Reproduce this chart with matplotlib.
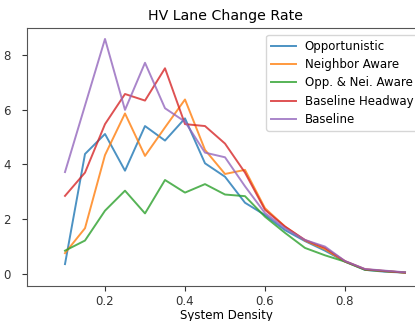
import matplotlib
matplotlib.use("Agg")
import matplotlib.pyplot as plt

x = [0.1, 0.15, 0.2, 0.25, 0.3, 0.35, 0.4, 0.45, 0.5, 0.55, 0.6, 0.65, 0.7, 0.75, 0.8, 0.85, 0.9, 0.95]
opportunistic = [0.36, 4.38, 5.11, 3.77, 5.40, 4.87, 5.68, 4.04, 3.55, 2.60, 2.15, 1.60, 1.20, 0.85, 0.45, 0.15, 0.08, 0.05]
neighbor_aware = [0.76, 1.67, 4.34, 5.86, 4.31, 5.35, 6.37, 4.53, 3.65, 3.80, 2.40, 1.73, 1.22, 0.90, 0.45, 0.17, 0.10, 0.05]
opp_nei_aware = [0.85, 1.22, 2.31, 3.04, 2.21, 3.43, 2.97, 3.28, 2.90, 2.84, 2.09, 1.50, 0.95, 0.68, 0.45, 0.15, 0.10, 0.05]
baseline_headway = [2.85, 3.70, 5.47, 6.57, 6.33, 7.51, 5.47, 5.40, 4.76, 3.70, 2.34, 1.73, 1.24, 0.95, 0.47, 0.17, 0.11, 0.05]
baseline = [3.72, 6.15, 8.58, 5.99, 7.71, 6.05, 5.56, 4.43, 4.26, 3.20, 2.22, 1.67, 1.24, 1.00, 0.47, 0.18, 0.12, 0.06]

series = [
    ("Opportunistic", opportunistic, "#1f77b4"),
    ("Neighbor Aware", neighbor_aware, "#ff7f0e"),
    ("Opp. & Nei. Aware", opp_nei_aware, "#2ca02c"),
    ("Baseline Headway", baseline_headway, "#d62728"),
    ("Baseline", baseline, "#9467bd"),
]
yticks = [0, 2, 4, 6, 8]
xticks = [0.2, 0.4, 0.6, 0.8]

fig = plt.figure(figsize=(4.15, 3.21), dpi=100)
ax = fig.add_axes([27 / 415, 35 / 321, 398 / 415, 258 / 321])
for name, vals, col in series:
    ax.plot(x, vals, color=col, lw=1.4, alpha=0.8, label=name)

ax.set_xlim(0.005, 1.0)
ax.set_ylim(-0.44, 8.98)
ax.set_yticks(yticks)
ax.set_yticklabels([str(v) for v in yticks])
ax.set_xticks(xticks)
ax.set_xticklabels([f"{v:.1f}" for v in xticks])
ax.tick_params(labelsize=8.5, colors="#333333", pad=8)
ax.tick_params(axis="x", pad=3)
for s in ax.spines.values():
    s.set_color("#555555")
ax.set_xlabel("System Density", fontsize=8.5, labelpad=1)
ax.set_title("HV Lane Change Rate", fontsize=10.2, pad=6)
leg = ax.legend(loc="upper right", fontsize=8.5, handlelength=2.1,
                handletextpad=0.75, labelspacing=0.45, borderpad=0.4,
                borderaxespad=0.6, framealpha=0.8)
for h in leg.get_lines():
    h.set_alpha(0.8)

fig.savefig("out.png", dpi=100)
